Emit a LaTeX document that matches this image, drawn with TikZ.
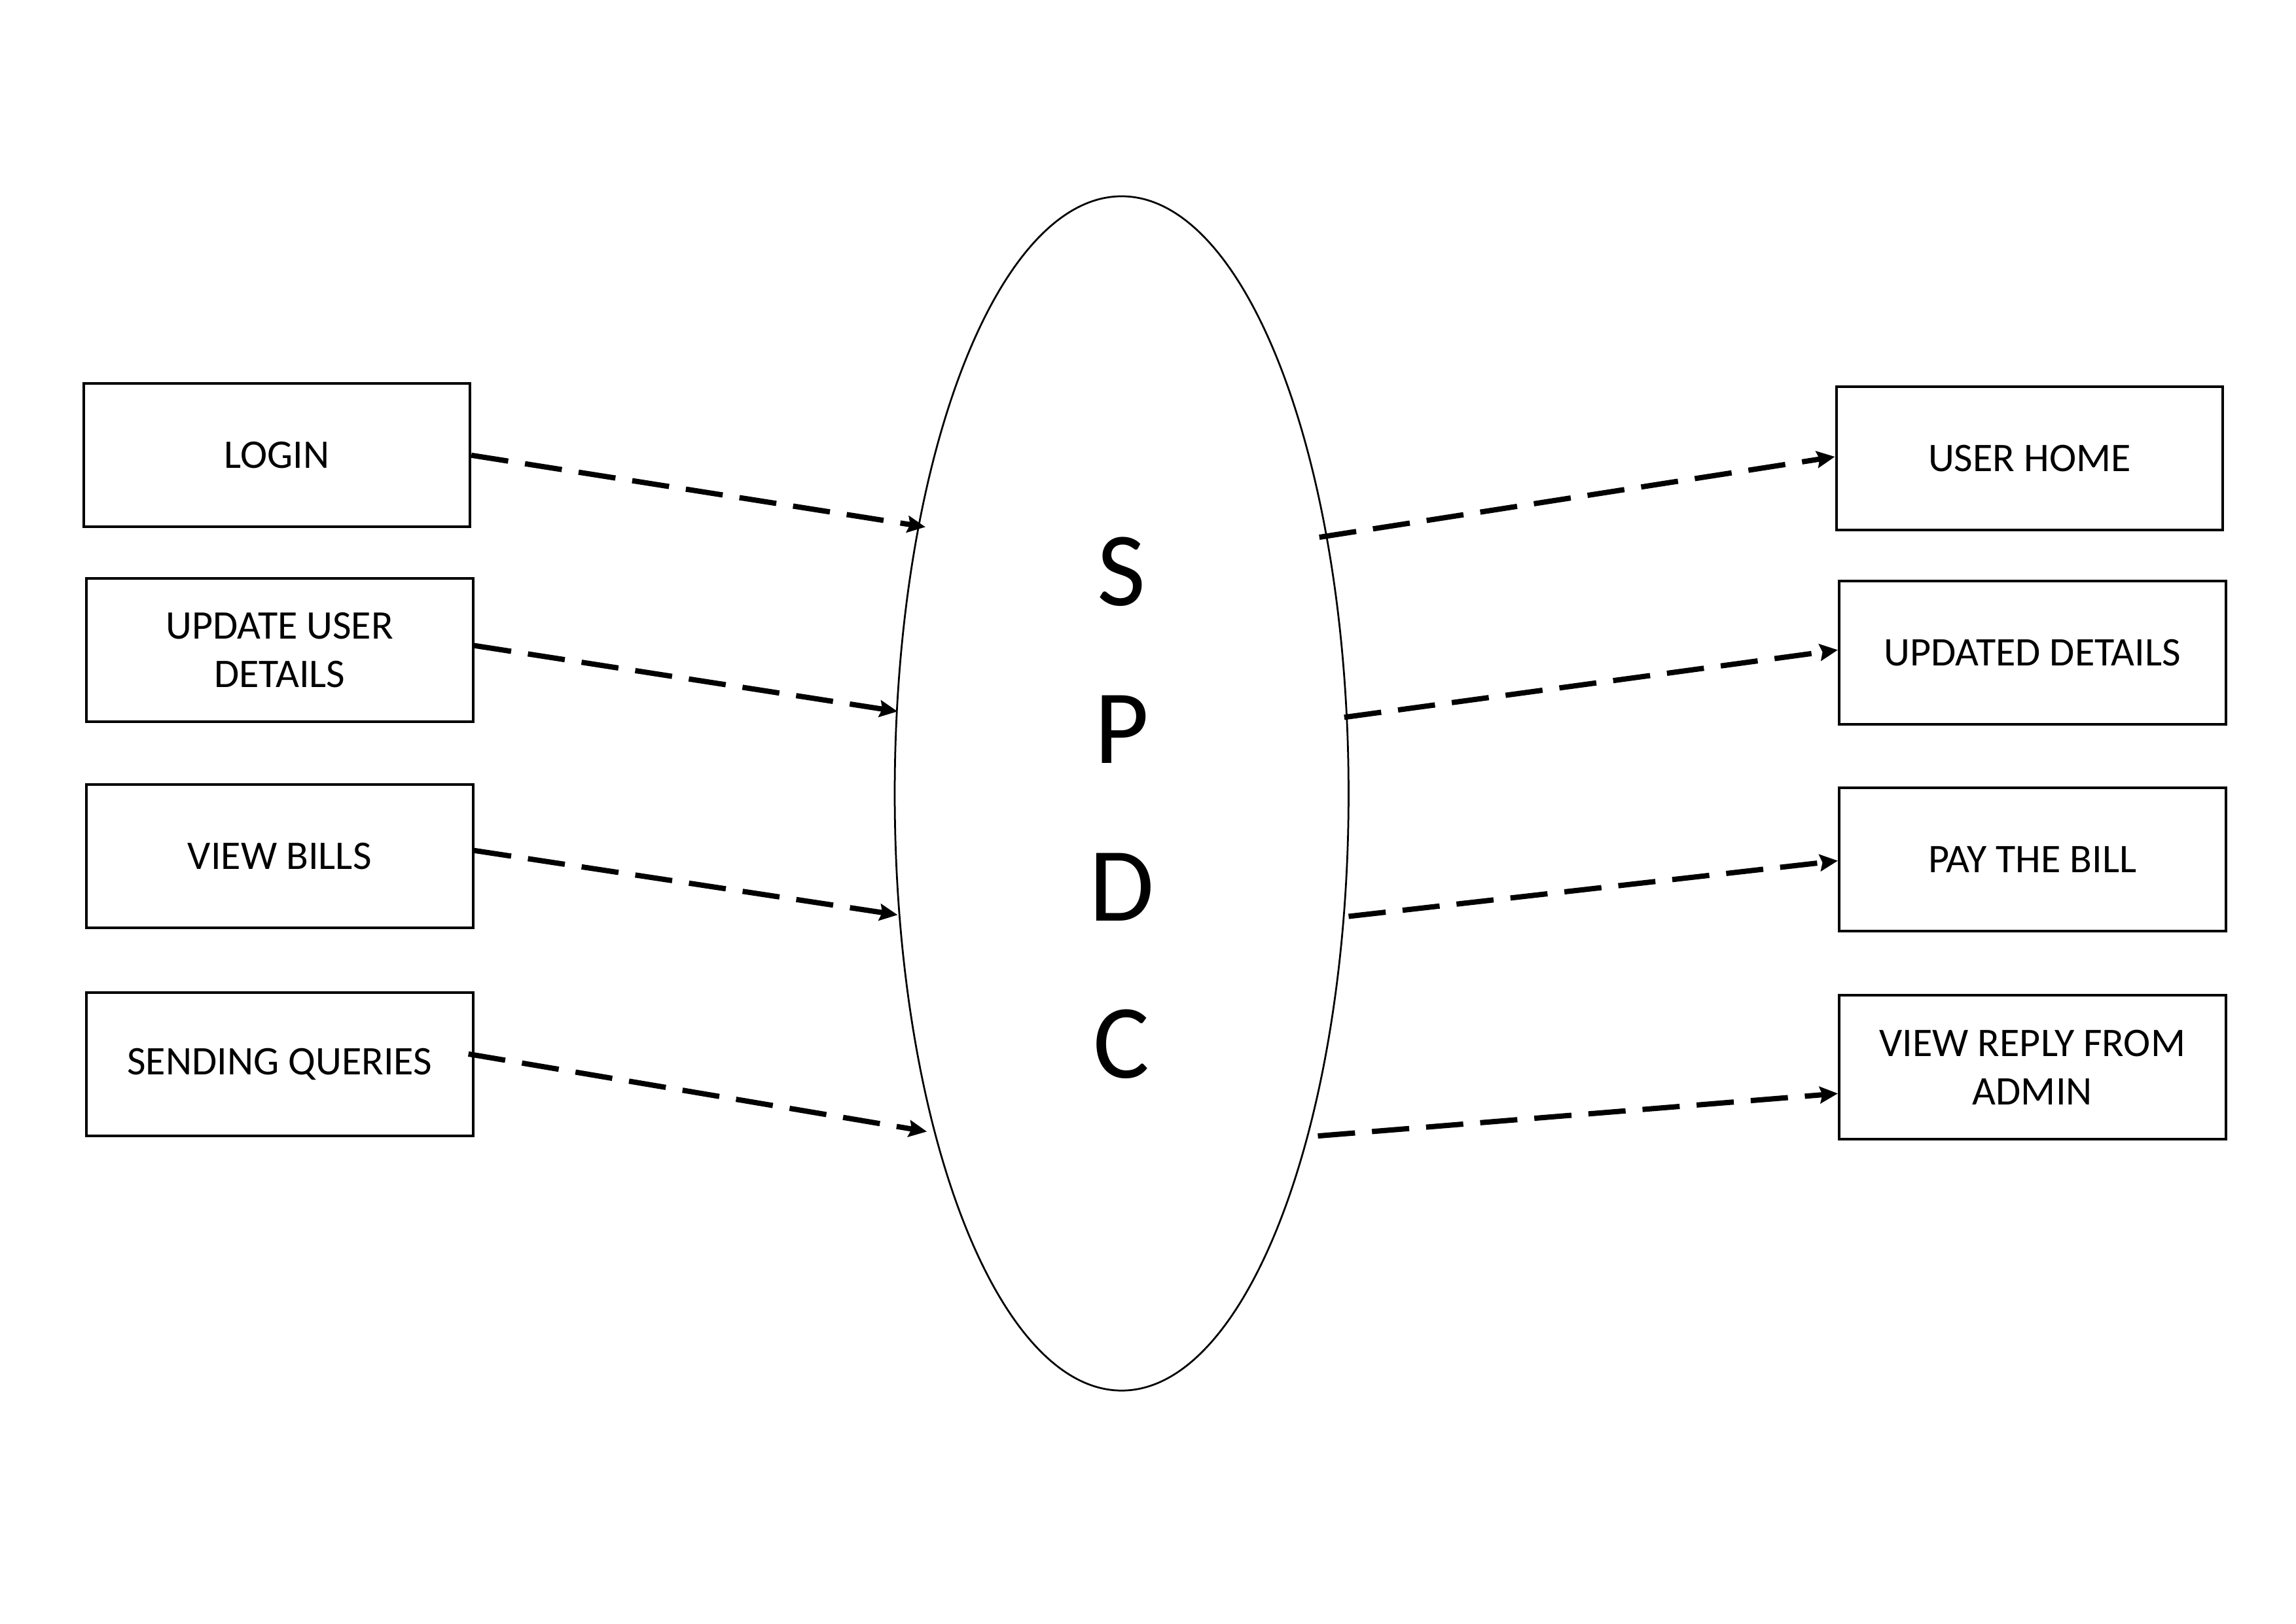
\documentclass[tikz,border=0pt]{standalone}
\usepackage{fontspec}
\setmainfont{Carlito}
\usetikzlibrary{shapes.geometric,arrows.meta,calc}
\tikzset{
  boxnode/.style={draw, line width=1.05pt, minimum width=5.28cm, minimum height=1.96cm,
    inner sep=0pt, align=center, font=\fontsize{15.8}{18.8}\selectfont},
  flow/.style={line width=2.05pt, dash pattern=on 14.5pt off 6.6pt,
    -{Stealth[length=7pt,width=6.5pt,inset=1pt]}}
}
\begin{document}
\begin{tikzpicture}[x=0.02cm,y=-0.02cm]
\useasboundingbox (0,0) rectangle (1568,1109);
\fill[white] (0,0) rectangle (1568,1109);
% central process
\node[draw, ellipse, line width=0.7pt, minimum width=6.2cm, minimum height=16.32cm, inner sep=0pt] (e) at (766,542) {};
\node[align=center, font=\fontsize{41}{61.2}\selectfont] (spdc) at (766,552) {S\\P\\D\\C};
% left boxes
\node[boxnode] (login) at (189,311) {LOGIN};
\node[boxnode] (upd) at (191,444) {UPDATE USER\\DETAILS};
\node[boxnode] (bills) at (191,585) {VIEW BILLS};
\node[boxnode] (query) at (191,727) {SENDING QUERIES};
% right boxes
\node[boxnode] (home) at (1386,313) {USER HOME};
\node[boxnode] (updd) at (1388,446) {UPDATED DETAILS};
\node[boxnode] (pay) at (1388,587) {PAY THE BILL};
\node[boxnode] (reply) at (1388,729) {VIEW REPLY FROM\\ADMIN};
% connector ends on the ellipse
\coordinate (l1) at (632,360);
\coordinate (l2) at (613,486);
\coordinate (l3) at (613,625);
\coordinate (l4) at (633,773);
\coordinate (r1) at (901,367);
\coordinate (r2) at (918,490);
\coordinate (r3) at (921,626);
\coordinate (r4) at (900,776);
% connectors
\draw[flow] (login.east) -- (l1);
\draw[flow] ($(upd.east)+(0,-3)$) -- (l2);
\draw[flow] ($(bills.east)+(0,-4)$) -- (l3);
\draw[flow] ($(query.east)+(-4,-7)$) -- (l4);
\draw[flow] (r1) -- ($(home.west)+(0,-1)$);
\draw[flow] (r2) -- ($(updd.west)+(0,-2)$);
\draw[flow] (r3) -- ($(pay.west)+(0,1)$);
\draw[flow] (r4) -- ($(reply.west)+(0,18)$);
\end{tikzpicture}
\end{document}
